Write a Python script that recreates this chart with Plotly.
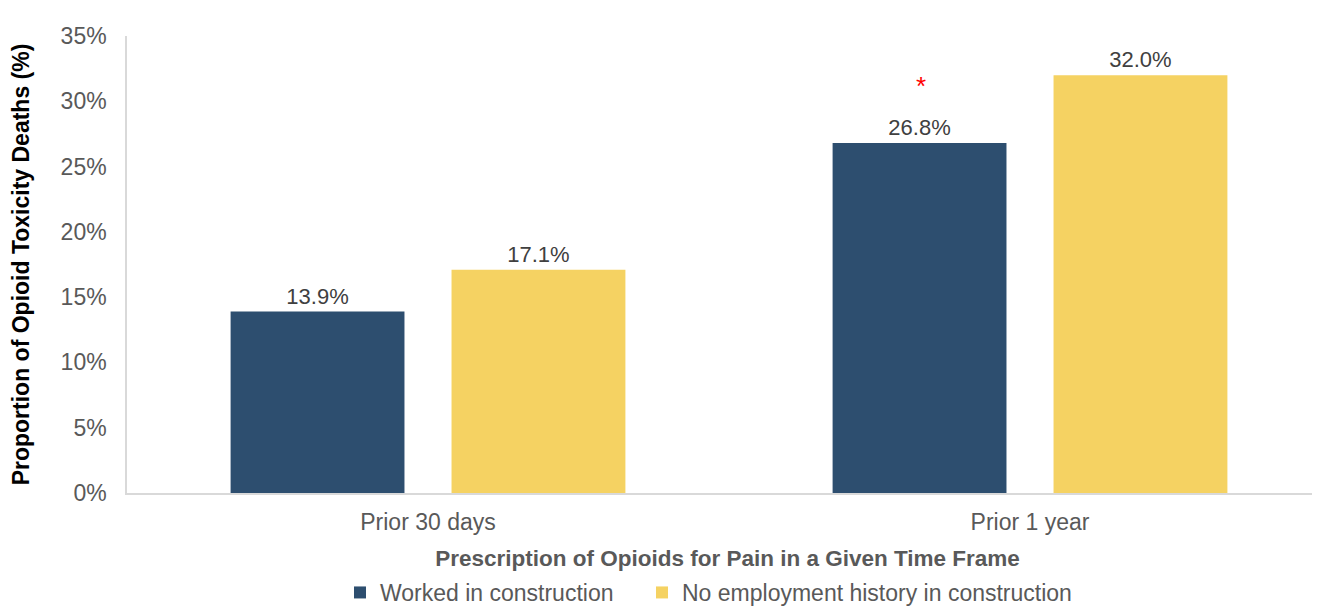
import plotly.graph_objects as go

# Data
categories = ['Prior 30 days', 'Prior 1 year']
worked_construction = [13.9, 26.8]
no_construction = [17.1, 32.0]
y_ticks = [0, 5, 10, 15, 20, 25, 30, 35]

BLUE = '#2D4E6F'
YELLOW = '#F5D262'
FONT = 'Liberation Sans, Arial, sans-serif'

fig = go.Figure()

fig.add_trace(go.Bar(
    x=categories, y=worked_construction,
    name='Worked in construction',
    marker=dict(color=BLUE, line=dict(width=0)),
    text=[f'{v:.1f}%' for v in worked_construction],
    textposition='outside',
    textfont=dict(size=22, color='#404040', family=FONT),
    cliponaxis=False,
    legend='legend',
))
fig.add_trace(go.Bar(
    x=categories, y=no_construction,
    name='No employment history in construction',
    marker=dict(color=YELLOW, line=dict(width=0)),
    text=[f'{v:.1f}%' for v in no_construction],
    textposition='outside',
    textfont=dict(size=22, color='#404040', family=FONT),
    cliponaxis=False,
    legend='legend2',
))

# significance marker over the construction bar, prior 1 year
fig.add_annotation(
    x=categories[1], y=worked_construction[1], xref='x', yref='y',
    text='*', showarrow=False, xshift=-109, yshift=40, yanchor='bottom',
    font=dict(size=26, color='#FF0000', family=FONT),
)

legend_style = dict(
    orientation='h', xref='container', xanchor='left',
    yref='container', y=-0.007, yanchor='bottom',
    font=dict(size=23, color='#595959'), itemsizing='constant', itemwidth=30,
)

# page body adds an 8px offset, so margins are trimmed to match
fig.update_layout(
    width=1320, height=606,
    paper_bgcolor='white', plot_bgcolor='white',
    margin=dict(l=119, r=0, t=28, b=121),
    barmode='group', bargap=0.266, bargroupgap=0.213,
    font=dict(family=FONT, color='#595959'),
    showlegend=True,
    legend=dict(x=0.2515, **legend_style),
    legend2=dict(x=0.4803, **legend_style),
)

fig.update_xaxes(
    range=[-0.5, 1.495], automargin=False,
    showline=True, linecolor='#D9D9D9', linewidth=1.5,
    ticks='', tickfont=dict(size=23, color='#595959'), ticklabelstandoff=8,
    title=dict(text='<b>Prescription of Opioids for Pain in a Given Time Frame</b>',
               font=dict(size=22.5, color='#595959'), standoff=17),
    showgrid=False,
)
fig.update_yaxes(
    range=[0, 35], tickmode='array', tickvals=y_ticks,
    ticktext=[f'{t}%' for t in y_ticks], automargin=False,
    showline=True, linecolor='#D9D9D9', linewidth=1.5,
    ticks='', tickfont=dict(size=23, color='#595959'), ticklabelstandoff=14,
    showgrid=False, zeroline=False,
    title=dict(text='<b>Proportion of Opioid Toxicity Deaths (%)</b>',
               font=dict(size=23, color='#000000'), standoff=28),
)

fig.write_html('out.html')
